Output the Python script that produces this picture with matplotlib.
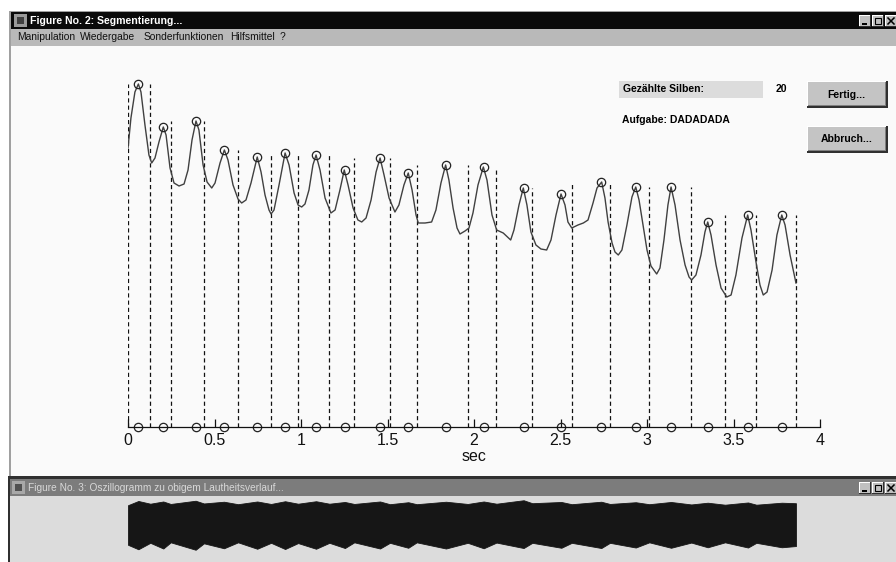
import numpy as np
import matplotlib
matplotlib.use('Agg')
import matplotlib.pyplot as plt
from matplotlib.patches import Rectangle

plt.rcParams['font.family'] = ['Liberation Sans', 'DejaVu Sans']
plt.rcParams['lines.scale_dashes'] = False

# loudness curve: time (sec) and loudness (arbitrary units)
curve_t = [0.000, 0.017, 0.040, 0.060, 0.075, 0.098, 0.121, 0.137, 0.156, 0.179,
           0.204, 0.220, 0.243, 0.266, 0.295, 0.324, 0.347, 0.370, 0.393, 0.410,
           0.434, 0.457, 0.484, 0.503, 0.532, 0.557, 0.578, 0.607, 0.636, 0.657,
           0.682, 0.711, 0.747, 0.769, 0.792, 0.815, 0.827, 0.844, 0.873, 0.908,
           0.931, 0.960, 0.983, 1.004, 1.023, 1.046, 1.069, 1.087, 1.110, 1.139,
           1.173, 1.197, 1.225, 1.250, 1.272, 1.301, 1.329, 1.351, 1.376, 1.405,
           1.434, 1.457, 1.480, 1.509, 1.543, 1.566, 1.595, 1.620, 1.642, 1.665,
           1.678, 1.717, 1.755, 1.780, 1.809, 1.836, 1.855, 1.879, 1.902, 1.919,
           1.948, 1.971, 1.994, 2.023, 2.054, 2.075, 2.104, 2.131, 2.169, 2.212,
           2.231, 2.260, 2.285, 2.306, 2.329, 2.358, 2.387, 2.420, 2.445, 2.474,
           2.503, 2.526, 2.543, 2.565, 2.601, 2.632, 2.659, 2.688, 2.711, 2.738,
           2.757, 2.775, 2.798, 2.815, 2.834, 2.855, 2.884, 2.913, 2.935, 2.954,
           2.977, 3.000, 3.023, 3.056, 3.075, 3.098, 3.121, 3.139, 3.162, 3.191,
           3.220, 3.243, 3.258, 3.283, 3.312, 3.335, 3.351, 3.370, 3.399, 3.428,
           3.461, 3.486, 3.514, 3.549, 3.582, 3.601, 3.630, 3.653, 3.672, 3.694,
           3.723, 3.751, 3.779, 3.798, 3.827, 3.861]
curve_v = [279, 309, 335, 343, 335, 302, 272, 264, 269, 285,
           300, 292, 259, 244, 241, 243, 257, 287, 306, 297,
           262, 245, 239, 244, 264, 277, 267, 242, 228, 224,
           227, 244, 270, 255, 232, 217, 213, 217, 242, 274,
           262, 234, 222, 220, 223, 237, 262, 272, 257, 229,
           214, 217, 237, 257, 242, 219, 207, 205, 209, 227,
           255, 269, 252, 229, 215, 222, 242, 254, 237, 212,
           204, 204, 205, 217, 244, 262, 247, 219, 199, 193,
           196, 199, 214, 242, 260, 247, 212, 197, 194, 187,
           197, 222, 239, 222, 195, 182, 178, 177, 187, 212,
           233, 222, 205, 199, 202, 204, 207, 224, 239, 245,
           229, 205, 184, 175, 172, 177, 202, 230, 240, 227,
           202, 177, 161, 153, 159, 187, 222, 240, 222, 187,
           162, 150, 147, 152, 172, 195, 205, 192, 162, 139,
           130, 132, 152, 189, 212, 197, 165, 142, 132, 135,
           157, 192, 212, 202, 172, 144]

# detected syllable peaks
peak_t = [0.060, 0.204, 0.391, 0.555, 0.747, 0.908, 1.087, 1.254, 1.457, 1.620,
          1.838, 2.056, 2.287, 2.505, 2.736, 2.935, 3.139, 3.351, 3.584, 3.779]
peak_v = [343, 300, 306, 277, 270, 274, 272, 257, 269, 254,
          262, 260, 239, 233, 245, 240, 240, 205, 212, 212]

# segment boundaries (sec)
bound_t = [0.000, 0.129, 0.247, 0.439, 0.636, 0.827, 0.983, 1.164, 1.308, 1.514,
           1.669, 1.964, 2.130, 2.337, 2.565, 2.786, 3.013, 3.256, 3.451, 3.632, 3.861]

# oscillogram envelope
wave_t = [0.000, 0.060, 0.129, 0.204, 0.247, 0.391, 0.439, 0.555, 0.636, 0.747,
          0.827, 0.908, 0.983, 1.087, 1.164, 1.254, 1.308, 1.457, 1.514, 1.620,
          1.669, 1.838, 1.964, 2.056, 2.130, 2.287, 2.337, 2.505, 2.565, 2.736,
          2.786, 2.935, 3.013, 3.139, 3.256, 3.351, 3.451, 3.584, 3.632, 3.779, 3.861]
wave_hi = [0.80, 0.97, 0.86, 0.95, 0.85, 0.98, 0.87, 0.94, 0.84, 0.95,
           0.85, 0.96, 0.86, 0.96, 0.86, 0.93, 0.85, 0.95, 0.84, 0.92,
           0.84, 0.94, 0.85, 0.95, 0.86, 1.00, 0.88, 0.93, 0.84, 0.94,
           0.85, 0.92, 0.84, 0.93, 0.83, 0.90, 0.82, 0.91, 0.82, 0.90, 0.88]
wave_lo = [-0.80, -0.98, -0.72, -0.95, -0.70, -1.00, -0.74, -0.94, -0.70, -0.96,
           -0.72, -0.97, -0.73, -0.96, -0.72, -0.93, -0.70, -0.95, -0.72, -0.92,
           -0.70, -0.95, -0.72, -0.94, -0.71, -0.93, -0.72, -0.92, -0.72, -0.93,
           -0.72, -0.91, -0.70, -0.92, -0.71, -0.90, -0.70, -0.91, -0.72, -0.90, -0.85]

xticks = [0, 0.5, 1, 1.5, 2, 2.5, 3, 3.5, 4]
xticklabels = ['0', '0.5', '1', '1.5', '2', '2.5', '3', '3.5', '4']
menu_items = ['Manipulation', 'Wiedergabe', 'Sonderfunktionen', 'Hilfsmittel', '?']
menu_x = [17, 80, 144, 230, 280]

W, H = 896, 562
fig = plt.figure(figsize=(W / 100, H / 100), dpi=100)
fig.patch.set_facecolor('white')


def box(x, y, w, h):
    return [x / W, 1 - (y + h) / H, w / W, h / H]


# window chrome, drawn in pixel coordinates
bg = fig.add_axes([0, 0, 1, 1])
bg.set_xlim(0, W)
bg.set_ylim(H, 0)
bg.axis('off')


def rect(x, y, w, h, c):
    bg.add_patch(Rectangle((x, y), w, h, facecolor=c, edgecolor='none'))


def button3d(x, y, w, h, label, face='#c4c4c4'):
    rect(x, y, w, h, '#303030')
    rect(x, y, w - 2, h - 2, 'white')
    rect(x + 1, y + 1, w - 3, h - 3, '#808080')
    rect(x + 1, y + 1, w - 4, h - 4, face)
    bg.text(x + w / 2 - 1, y + h / 2, label, ha='center', va='center',
            fontsize=7.5, fontweight='bold', color='black')


def titlebuttons(y):
    for i, bx in enumerate([859, 872, 885]):
        rect(bx, y, 12, 12, '#303030')
        rect(bx, y, 11, 11, 'white')
        rect(bx + 1, y + 1, 10, 10, '#c0c0c0')
        if i == 0:
            rect(bx + 3, y + 8, 5, 1.5, 'black')
        elif i == 1:
            bg.add_patch(Rectangle((bx + 3, y + 3), 6, 6, facecolor='none',
                                   edgecolor='black', lw=0.8))
        else:
            bg.plot([bx + 3, bx + 9], [y + 3, y + 9], color='black', lw=1.1)
            bg.plot([bx + 3, bx + 9], [y + 9, y + 3], color='black', lw=1.1)


# figure 2 window
rect(9, 11, W - 9, 465, '#a0a0a0')
rect(11, 12, W - 11, 17, '#0a0a0a')
rect(14, 14, 13, 13, '#9a9a9a')
rect(17, 17, 7, 7, '#404040')
bg.text(30, 20.5, 'Figure No. 2: Segmentierung...', ha='left', va='center',
        fontsize=7.6, fontweight='bold', color='white')
titlebuttons(15)
rect(11, 29, W - 11, 17, '#b9b9b9')
for label, mx in zip(menu_items, menu_x):
    bg.text(mx, 37.5, label, ha='left', va='center', fontsize=7.4, color='#111111')
rect(11, 46, W - 11, 430, '#fafafa')

# status widgets
rect(619, 81, 144, 17, '#dcdcdc')
bg.text(623, 89, 'Gezählte Silben:', ha='left', va='center', fontsize=7.5,
        fontweight='bold', color='black')
bg.text(776, 88.5, '20', ha='left', va='center', fontsize=7.5,
        fontweight='bold', color='black')
bg.text(622, 120, 'Aufgabe: DADADADA', ha='left', va='center', fontsize=7.5,
        fontweight='bold', color='black')
button3d(807, 81, 81, 27, 'Fertig...')
button3d(807, 126, 81, 27, 'Abbruch...')

# figure 3 window
rect(8, 476, W - 8, 86, '#303030')
rect(10, 479, W - 10, 17, '#7c7c7c')
rect(12, 481, 13, 13, '#a8a8a8')
rect(15, 484, 7, 7, '#505050')
bg.text(28, 488, 'Figure No. 3: Oszillogramm zu obigem Lautheitsverlauf...',
        ha='left', va='center', fontsize=7.3, color='#d8d8d8',
        family=['Liberation Sans Narrow', 'Liberation Sans', 'DejaVu Sans'])
titlebuttons(482)
rect(10, 496, W - 10, 66, '#dcdcdc')

# loudness plot
ax = fig.add_axes(box(128, 60, 692, 367))
ax.patch.set_alpha(0)
ax.set_xlim(0, 4)
ax.set_ylim(0, 367)
for s in ['top', 'left', 'right']:
    ax.spines[s].set_visible(False)
ax.spines['bottom'].set_linewidth(0.9)
ax.spines['bottom'].set_color('#111111')

heights = []
for i in range(len(bound_t)):
    near = []
    if i > 0:
        near.append(peak_v[i - 1])
    if i < len(peak_v):
        near.append(peak_v[i])
    heights.append(max(near))
ax.vlines(bound_t, 0, heights, colors='#111111', linestyles=(0, (3, 2.2)), lw=0.9)

ax.plot(curve_t, curve_v, color='#404040', lw=1.0)
ax.plot(peak_t, peak_v, 'o', mfc='none', mec='#222222', ms=6, mew=0.9, clip_on=False)
ax.plot(peak_t, np.zeros(len(peak_t)), 'o', mfc='none', mec='#222222', ms=6,
        mew=0.9, clip_on=False)

ax.set_xticks(xticks)
ax.set_xticklabels(xticklabels)
ax.set_yticks([])
ax.tick_params(axis='x', direction='in', length=6, width=0.9, labelsize=11.5,
               pad=4, colors='#111111')
ax.set_xlabel('sec', fontsize=11.5, labelpad=1, color='#111111')

# oscillogram
ax2 = fig.add_axes(box(128, 499, 692, 52))
ax2.set_xlim(0, 4)
ax2.set_ylim(-1.05, 1.05)
ax2.axis('off')
ax2.fill_between(wave_t, wave_lo, wave_hi, color='#161616', lw=0.6, edgecolor='#161616')

fig.savefig('out.png', dpi=100)
